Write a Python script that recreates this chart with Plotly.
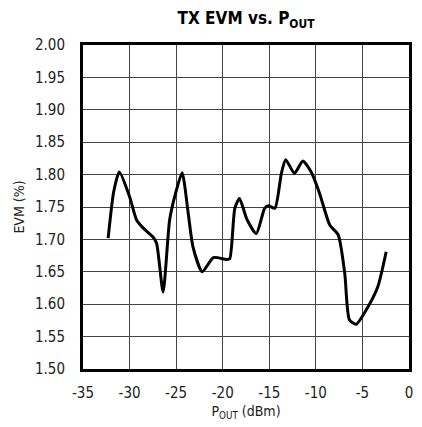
"""TX EVM vs. POUT — 单曲线特性图"""
import plotly.graph_objects as go

# 数据
pout_dbm = [-32.3, -31.7, -31.1, -30.0, -29.25, -28.5, -27.5, -27.1, -26.4, -25.7,
            -25.1, -24.36, -23.7, -23.2, -22.2, -21.0, -19.6, -19.25, -18.7, -18.2,
            -17.4, -16.4, -15.5, -15.1, -14.4, -13.7, -13.24, -12.3, -11.4, -10.5,
            -9.6, -8.5, -7.6, -6.9, -6.4, -5.67, -4.6, -3.35, -2.45]
evm_pct = [1.702, 1.774, 1.804, 1.766, 1.730, 1.717, 1.704, 1.694, 1.619, 1.730,
           1.769, 1.803, 1.740, 1.689, 1.650, 1.672, 1.669, 1.670, 1.748, 1.763,
           1.731, 1.709, 1.748, 1.752, 1.748, 1.802, 1.823, 1.802, 1.821, 1.804,
           1.771, 1.722, 1.707, 1.648, 1.576, 1.569, 1.591, 1.627, 1.681]

x_ticks = [-35, -30, -25, -20, -15, -10, -5, 0]
y_ticks = [1.50, 1.55, 1.60, 1.65, 1.70, 1.75, 1.80, 1.85, 1.90, 1.95, 2.00]

FONT = "DejaVu Sans Condensed, Liberation Sans Narrow, Arial Narrow, Arial"

fig = go.Figure()
fig.add_trace(go.Scatter(
    x=pout_dbm, y=evm_pct,
    mode="lines",
    line=dict(color="black", width=3, shape="spline", smoothing=0.6),
    showlegend=False,
))

# 页面 body 自带 8px 边距，图整体缩小 8px
fig.update_layout(
    width=414, height=419,
    paper_bgcolor="white", plot_bgcolor="white",
    font=dict(family=FONT, color="#222", size=15),
    margin=dict(l=75, r=13, t=37, b=58),
    title=dict(
        text="<b>TX EVM vs. P<sub>OUT</sub></b>",
        xref="paper", x=0.5, xanchor="center", y=0.976, yanchor="middle",
        font=dict(family=FONT, size=17, color="black"),
    ),
    annotations=[dict(
        text="MAX2828/9 toc25", textangle=90,
        xref="paper", yref="paper", x=1.0, y=1.0,
        xanchor="left", yanchor="top", xshift=2,
        showarrow=False, font=dict(family=FONT, size=8, color="#333"),
    )],
)

fig.update_xaxes(
    range=[-35, 0], tickvals=x_ticks, ticktext=[str(v) for v in x_ticks],
    showgrid=True, gridcolor="#444", gridwidth=1, zeroline=False,
    showline=True, linecolor="black", linewidth=3, mirror=True,
    ticks="", ticklabelstandoff=8, automargin=False,
    title=dict(text="P<sub>OUT</sub> (dBm)", standoff=6, font=dict(size=14)),
)
fig.update_yaxes(
    range=[1.50, 2.00], tickvals=y_ticks, ticktext=[f"{v:.2f}" for v in y_ticks],
    showgrid=True, gridcolor="#444", gridwidth=1, zeroline=False,
    showline=True, linecolor="black", linewidth=3, mirror=True,
    ticks="", ticklabelstandoff=12, automargin=False,
    title=dict(text="EVM (%)", standoff=8, font=dict(size=14)),
)

fig.write_html("out.html")
